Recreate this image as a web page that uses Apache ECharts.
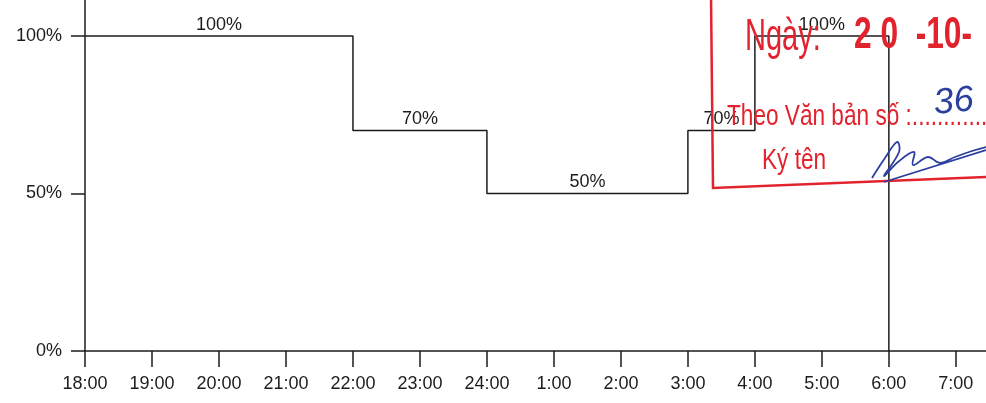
<!DOCTYPE html>
<html>
<head>
<meta charset="utf-8">
<script src="https://cdn.jsdelivr.net/npm/echarts@6/dist/echarts.min.js"></script>
<style>
  html, body { margin: 0; padding: 0; background: #fff; }
  #chart { width: 986px; height: 403px; }
</style>
</head>
<body>
<div id="chart"></div>
<script>
// hour labels, 18:00 -> 7:00 (x = hours after 18:00)
var hourLabels = ['18:00','19:00','20:00','21:00','22:00','23:00','24:00','1:00','2:00','3:00','4:00','5:00','6:00','7:00'];
// step start positions (hours after 18:00) and level held from there
var stepStart = [0, 4, 6, 9, 10, 12];
var stepLevel = [100, 70, 50, 70, 100, 0];
var yTicks = [0, 50, 100];

var lineData = stepStart.map(function (x, i) { return [x, stepLevel[i]]; });
// one label per flat segment, at its middle
var segLabels = [];
for (var i = 0; i < stepStart.length - 1; i++) {
  segLabels.push([(stepStart[i] + stepStart[i + 1]) / 2, stepLevel[i]]);
}
var hourTicks = hourLabels.map(function (h, i) { return i; });

var ink = '#1c1c1c';
var red = '#e2232e';
var blue = '#2a3f9e';
var font = 'Liberation Sans, Arial, sans-serif';

var chart = echarts.init(document.getElementById('chart'));
chart.setOption({
  backgroundColor: '#ffffff',
  animation: false,
  grid: { left: 85, right: 0, top: 0, bottom: 52 },
  xAxis: {
    type: 'value',
    min: 0,
    max: 13.45,
    splitLine: { show: false },
    axisLine: { show: true, lineStyle: { color: ink, width: 1.5 } },
    axisTick: { show: true, length: 16, customValues: hourTicks, lineStyle: { color: ink, width: 1.5 } },
    axisLabel: {
      customValues: hourTicks,
      margin: 24,
      fontSize: 18,
      fontFamily: font,
      color: ink,
      formatter: function (v) { return hourLabels[Math.round(v)]; }
    }
  },
  yAxis: {
    type: 'value',
    min: 0,
    max: 111.4,
    splitLine: { show: false },
    axisLine: { show: true, lineStyle: { color: ink, width: 1.5 } },
    axisTick: { show: true, length: 14, customValues: yTicks, lineStyle: { color: ink, width: 1.5 } },
    axisLabel: {
      customValues: yTicks,
      margin: 23,
      fontSize: 18,
      fontFamily: font,
      color: ink,
      formatter: function (v) { return v + '%'; }
    }
  },
  series: [
    {
      type: 'line',
      step: 'end',
      data: lineData,
      symbol: 'none',
      lineStyle: { color: ink, width: 1.5 }
    },
    {
      type: 'scatter',
      data: segLabels,
      symbolSize: 2,
      itemStyle: { color: 'rgba(0,0,0,0)', opacity: 1 },
      label: {
        show: true,
        position: 'top',
        distance: 1,
        fontSize: 18,
        fontFamily: font,
        color: ink,
        formatter: function (p) { return p.value[1] + '%'; }
      },
      labelLayout: { hideOverlap: false }
    }
  ],
  graphic: [
    // red approval stamp
    { type: 'polyline', z: 10, shape: { points: [[711, -5], [713, 188], [986, 177]] },
      style: { stroke: red, lineWidth: 2.5, fill: null } },
    { type: 'text', z: 10, x: 745, y: 16, scaleX: 0.66,
      style: { text: 'Ngày:', fill: red, font: '44px ' + font } },
    { type: 'text', z: 10, x: 854, y: 14, scaleX: 0.72,
      style: { text: '2 0  -10-  2', fill: red, font: 'bold 44px ' + font } },
    { type: 'text', z: 10, x: 727, y: 102, scaleX: 0.78,
      style: { text: 'Theo Văn bản số :.............', fill: red, font: '29px ' + font } },
    { type: 'text', z: 10, x: 762, y: 146, scaleX: 0.78,
      style: { text: 'Ký tên', fill: red, font: '29px ' + font } },
    // handwriting in blue
    { type: 'text', z: 11, x: 932, y: 86, rotation: 0.1,
      style: { text: '36', fill: blue, font: 'italic 36px ' + font } },
    { type: 'polyline', z: 11,
      shape: { smooth: 0.4, points: [[872, 178], [885, 158], [897, 142], [899, 152], [884, 176], [898, 162], [914, 152], [913, 165], [928, 157], [940, 163], [955, 157], [972, 151], [986, 147]] },
      style: { stroke: blue, lineWidth: 1.8, fill: null } },
    { type: 'line', z: 11, shape: { x1: 884, y1: 182, x2: 986, y2: 150 },
      style: { stroke: blue, lineWidth: 1.8 } }
  ]
});
</script>
</body>
</html>
